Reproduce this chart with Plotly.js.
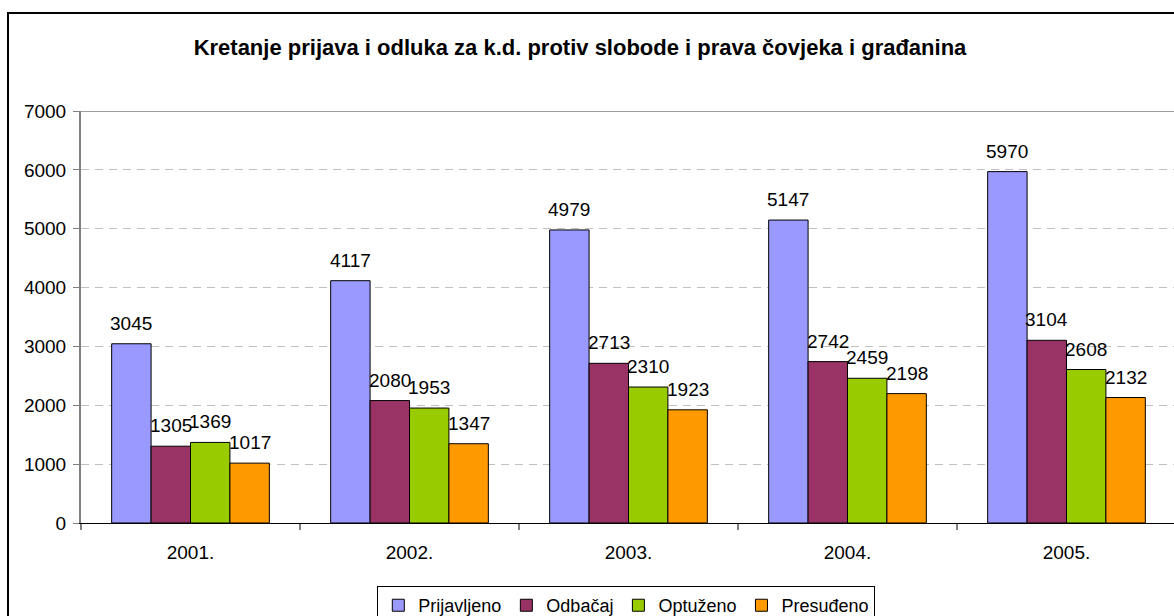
<!DOCTYPE html>
<html>
<head>
<meta charset="utf-8">
<script src="https://cdn.plot.ly/plotly-3.0.1.min.js"></script>
<style>
html,body{margin:0;padding:0;overflow:hidden;background:#fff;width:1174px;height:616px;}
#frame{position:absolute;left:7px;top:12px;border-top:2px solid #000;border-left:2px solid #000;width:1180px;height:650px;}
#chart{width:1171px;height:640px;}
</style>
</head>
<body>
<div id="frame"><div id="chart"></div></div>
<script>
const categories = ["2001.", "2002.", "2003.", "2004.", "2005."];
const seriesNames = ["Prijavljeno", "Odbačaj", "Optuženo", "Presuđeno"];
const prijavljeno = [3045, 4117, 4979, 5147, 5970];
const odbacaj = [1305, 2080, 2713, 2742, 3104];
const optuzeno = [1369, 1953, 2310, 2459, 2608];
const presudeno = [1017, 1347, 1923, 2198, 2132];
const titleText = "Kretanje prijava i odluka za k.d. protiv slobode i prava čovjeka i građanina";

const seriesValues = [prijavljeno, odbacaj, optuzeno, presudeno];
const colors = ["#9999FF", "#993366", "#99CC00", "#FF9900"];
const bargap = 0.28;
const barW = (1 - bargap) / 4;

const FONT = "Liberation Sans, Arial, sans-serif";

const traces = seriesValues.map((vals, k) => ({
  type: "bar",
  name: seriesNames[k],
  x: categories,
  y: vals,
  marker: {color: colors[k], line: {color: "#000", width: 1}},
  hoverinfo: "none"
}));

const annotations = [];
seriesValues.forEach((vals, k) => {
  const off = (k - 1.5) * barW;
  vals.forEach((v, i) => {
    annotations.push({
      x: i + off, y: v, xref: "x", yref: "y",
      text: String(v), showarrow: false,
      xanchor: "center", yanchor: "bottom", yshift: 8,
      font: {family: FONT, size: 19, color: "#000"}
    });
  });
});

const layout = {
  width: 1171, height: 640,
  margin: {l: 72, r: 4, t: 97, b: 131, autoexpand: false},
  paper_bgcolor: "#fff", plot_bgcolor: "#fff",
  font: {family: FONT, size: 19, color: "#000"},
  title: {
    text: "<b>" + titleText + "</b>",
    font: {family: FONT, size: 22, color: "#000"},
    xref: "paper", x: 0.4557, xanchor: "center",
    yref: "container", y: 1 - 33 / 640, yanchor: "middle"
  },
  barmode: "group", bargap: bargap, bargroupgap: 0,
  showlegend: true,
  legend: {
    orientation: "h", x: 0.498, xanchor: "center", y: -0.153, yanchor: "top",
    bordercolor: "#000", borderwidth: 1, bgcolor: "#fff",
    font: {family: FONT, size: 18, color: "#000"},
    itemwidth: 30, traceorder: "normal"
  },
  xaxis: {
    type: "category",
    showline: true, linecolor: "#000", linewidth: 1,
    ticks: "outside", tickson: "boundaries", ticklen: 6, tickcolor: "#808080", tickwidth: 2,
    ticklabelstandoff: 12,
    tickfont: {family: FONT, size: 19, color: "#000"},
    showgrid: false, zeroline: false, fixedrange: true
  },
  yaxis: {
    range: [0, 7000], dtick: 1000, tick0: 0,
    showline: true, linecolor: "#808080", linewidth: 2,
    ticks: "outside", ticklen: 6, tickcolor: "#808080", tickwidth: 1,
    ticklabelstandoff: 3,
    tickfont: {family: FONT, size: 19, color: "#000"},
    showgrid: true, gridcolor: "#c0c0c0", gridwidth: 1, griddash: "8px,6px",
    zeroline: false, fixedrange: true
  },
  shapes: [{
    type: "line", xref: "paper", yref: "y", x0: 0, x1: 1, y0: 7000, y1: 7000,
    line: {color: "#a0a0a0", width: 2}
  }],
  annotations: annotations
};

Plotly.newPlot("chart", traces, layout, {staticPlot: true, displayModeBar: false});
</script>
</body>
</html>
